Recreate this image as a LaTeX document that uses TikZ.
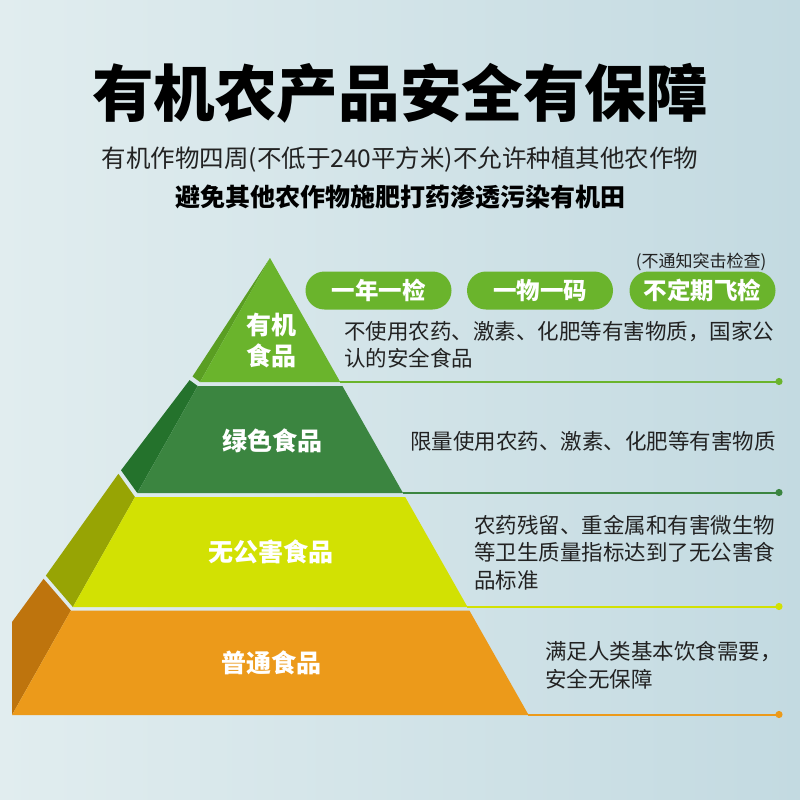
\documentclass[tikz,border=0pt]{standalone}
\usepackage{fontspec}
\setmainfont{Noto Sans CJK SC}
\usetikzlibrary{arrows.meta}
\definecolor{bgL}{HTML}{E1EDEF}
\definecolor{bgR}{HTML}{C3DAE1}
\definecolor{gA}{HTML}{6AB42C}
\definecolor{gAs}{HTML}{5A9E22}
\definecolor{gB}{HTML}{3B8540}
\definecolor{gBs}{HTML}{24722C}
\definecolor{yC}{HTML}{D2E103}
\definecolor{yCs}{HTML}{97A404}
\definecolor{oD}{HTML}{EC9A1A}
\definecolor{oDs}{HTML}{BE740D}
\definecolor{txt}{HTML}{222222}
\begin{document}
\begin{tikzpicture}[x=1pt,y=-1pt,
  every node/.style={inner sep=0pt,outer sep=0pt},
  titlestyle/.style={font=\fontsize{61.6}{70}\selectfont\bfseries,text=black},
  substyle/.style={font=\fontsize{24.5}{30}\selectfont,text=txt},
  subbold/.style={font=\fontsize{25}{30}\selectfont\bfseries,text=black},
  pill/.style={fill=gA,rounded corners=19pt,minimum width=146pt,minimum height=38pt,text=white,font=\fontsize{23.5}{28}\selectfont\bfseries},
  notestyle/.style={font=\fontsize{17}{20}\selectfont,text=txt},
  lab/.style={text=white,align=center,font=\fontsize{25}{31}\selectfont\bfseries},
  desc/.style={anchor=west,align=left,text=txt,font=\fontsize{21.5}{27.5}\selectfont},
  lk/.style={line width=2pt,-{Circle[length=7pt]}}]
\useasboundingbox (0,0) rectangle (800,800);
\shade[left color=bgL,right color=bgR] (0,0) rectangle (800,800);

% titles
\node[titlestyle] (title) at (400,93) {有机农产品安全有保障};
\node[substyle] (sub1) at (400,160) {有机作物四周(不低于240平方米)不允许种植其他农作物};
\node[subbold] (sub2) at (400,197) {避免其他农作物施肥打药渗透污染有机田};

% pills
\node[notestyle] (note) at (701,261.5) {(不通知突击检查)};
\node[pill] (p1) at (378.5,290.5) {一年一检};
\node[pill] (p2) at (540,290.5) {一物一码};
\node[pill] (p3) at (702.5,290.5) {不定期飞检};

% pyramid
\fill[gAs] (270,258) -- (192.5,376.5) -- (200,382) -- cycle;
\fill[gA] (270,258) -- (200,382) -- (340.2,382) -- cycle;
\fill[gBs] (189.6,380.1) -- (121,470.3) -- (137.3,493) -- (197.7,386) -- cycle;
\fill[gB] (197.7,386) -- (137.3,493) -- (403,493) -- (342.4,386) -- cycle;
\fill[yCs] (118.4,473.8) -- (47,574) -- (45.9,575.6) -- (72.9,607) -- (135,497) -- cycle;
\fill[yC] (135,497) -- (72.9,607) -- (467.5,607) -- (405.2,497) -- cycle;
\fill[oDs] (43.6,578.8) -- (12,622) -- (12,715) -- (70.9,610.5) -- cycle;
\fill[oD] (70.9,610.5) -- (12,715) -- (528.6,715) -- (469.4,610.5) -- cycle;

% level lines
\coordinate (r1) at (340.2,381.5); \coordinate (e1) at (782.5,381.5);
\coordinate (r2) at (402.7,492.5); \coordinate (e2) at (782.5,492.5);
\coordinate (r3) at (467.2,606.5); \coordinate (e3) at (782.5,606.5);
\coordinate (r4) at (528.3,714.5); \coordinate (e4) at (782.5,714.5);
\draw[lk,gA] (r1) -- (e1);
\draw[lk,gB] (r2) -- (e2);
\draw[lk,yC] (r3) -- (e3);
\draw[lk,oD] (r4) -- (e4);

% pyramid labels
\node[lab] (l1) at (271,340.5) {有机\\食品};
\node[lab] (l2) at (272,441) {绿色食品};
\node[lab] (l3) at (271,552) {无公害食品};
\node[lab] (l4) at (271,663) {普通食品};

% descriptions
\node[desc] (d1) at (344,344.5) {不使用农药、激素、化肥等有害物质，国家公\\认的安全食品};
\node[desc] (d2) at (410,441) {限量使用农药、激素、化肥等有害物质};
\node[desc] (d3) at (474,552.5) {农药残留、重金属和有害微生物\\等卫生质量指标达到了无公害食\\品标准};
\node[desc] (d4) at (545,665) {满足人类基本饮食需要，\\安全无保障};
\end{tikzpicture}
\end{document}
